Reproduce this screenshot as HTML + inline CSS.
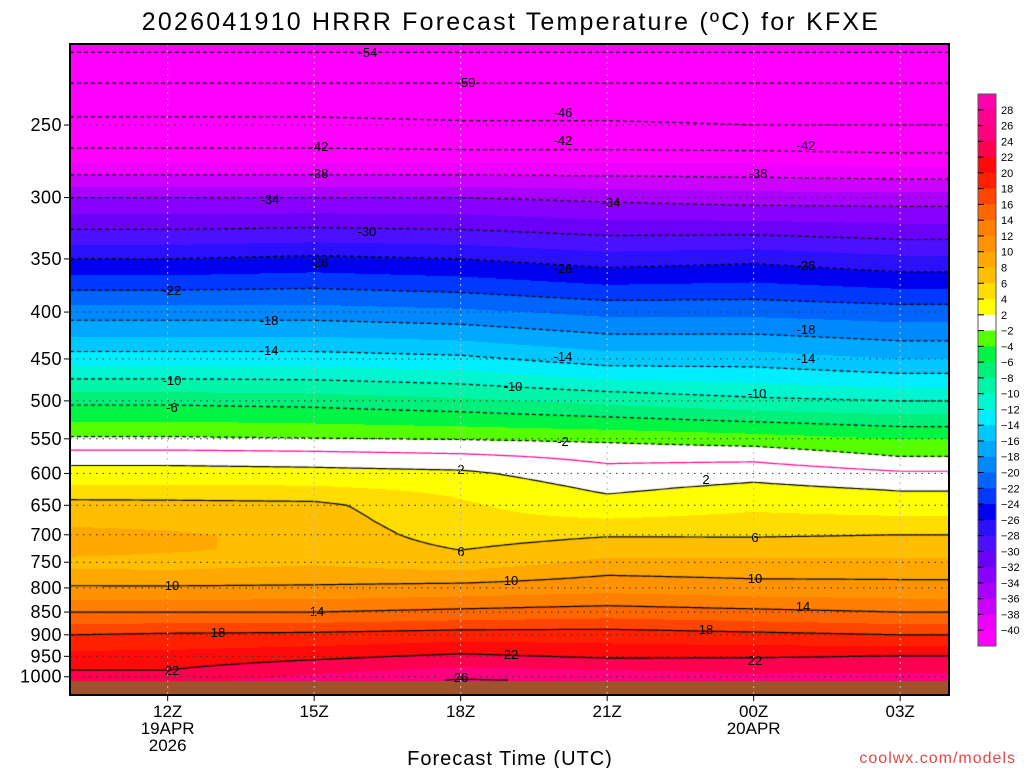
<!DOCTYPE html>
<html><head><meta charset="utf-8">
<style>
body{margin:0;background:#fff;width:1024px;height:768px;overflow:hidden;position:relative;font-family:"Liberation Sans",sans-serif}
#cv{position:absolute;left:70px;top:44px}
#ov{position:absolute;left:0;top:0}
</style></head><body>
<canvas id="cv" width="879" height="651"></canvas>
<svg id="ov" width="1024" height="768"></svg>
<script>
// ---- data ----
const levels=[200,225,250,275,300,350,400,450,500,550,575,600,625,650,675,700,725,750,775,800,850,900,950,1000,1030];
const hours=[10,12,15,18,21,24,27,28];
const t10=[-56,-50,-45,-40,-34,-26,-19,-13,-6.5,-1.7,1,2.9,4.6,6.8,7.6,8.6,8.6,7.5,8.6,10.3,14,18,20.8,22.6,25];
const t12=[-56,-50,-45,-40,-34,-26,-19,-13,-6.5,-1.7,1,2.9,4.6,6.7,7.4,8.3,8.2,7.4,8.5,10.3,14,18.3,20.8,22.6,25];
const t15=[-56,-50,-45,-40,-34,-25.5,-19,-13,-6.8,-1.9,0.8,2.7,4.5,6.5,7,7.4,7.6,7.8,8.8,10.4,14,18.5,21.5,24.5,26.5];
const t18=[-56,-50,-45.5,-40,-34,-26,-19.5,-13.5,-7.5,-2.1,0.4,2.4,3.6,4.3,4.5,5,5.9,7,8.7,10.8,14.5,19,22.4,25.6,27.5];
const t21=[-56,-50,-45.5,-40,-34.5,-27,-20.5,-15,-8.5,-2.4,-0.5,0.7,1.7,2.8,4.2,5.8,7.2,8.5,10,11.3,15,19,21.7,25.3,27];
const t00=[-56,-50,-46,-40,-35,-26.5,-20.5,-15,-9.5,-3,-0.6,1.3,2.6,3.6,4.6,5.8,7,8.5,9.7,10.8,14.5,18.5,21.8,24.5,25.5];
const t03=[-56,-50,-46,-40.5,-35,-27.5,-21,-16,-10,-4,-2,0.3,1.9,3,4.5,6,7.2,8.5,9.7,10.6,14,18,22.1,24.5,25.5];
const t04=[-56,-50,-46,-40.5,-35,-27.5,-21,-16,-10,-4,-2,0.3,1.9,3,4.5,6,7.2,8.5,9.7,10.6,14,18,22.1,24.5,25.5];
const profiles=[t10,t12,t15,t18,t21,t00,t03,t04];
const pTicks=[250,300,350,400,450,500,550,600,650,700,750,800,850,900,950,1000];
const xTickHours=[12,15,18,21,24,27];
const xTickLabels=["12Z","15Z","18Z","21Z","00Z","03Z"];
const cbLabels=[28,26,24,22,20,18,16,14,12,10,8,6,4,2,-2,-4,-6,-8,-10,-12,-14,-16,-18,-20,-22,-24,-26,-28,-30,-32,-34,-36,-38,-40];
const cbColors=["#ff00b0","#ff0090","#ff0080","#ff0050","#ff0a0a","#ff2000","#ff4500","#ff6600","#ff7f00","#ff9200","#ffa800","#ffbf00","#ffdd00","#ffff00","#ffffff","#55ff00","#00f444","#00f07a","#00f5a8","#00f5d0","#00ecff","#00c8ff","#00a8ff","#0088ff","#0064ff","#0038ff","#0000f0","#2a10ff","#4a10ff","#6a00f8","#8800ff","#aa00ff","#cc00ff","#ee00ff","#ff00ff"];
const contourLabels=[[-54,368,52],[-50,466,82],[-46,563,112],[-42,319,146],[-42,563,140],[-42,806,145],[-38,319,173],[-38,758,173],[-34,270,199],[-34,611,202],[-30,367,231],[-26,319,262],[-26,563,268],[-26,806,265],[-22,172,290],[-18,269,320],[-18,806,329],[-14,269,350],[-14,563,356],[-14,806,358],[-10,172,380],[-10,513,386],[-10,757,393],[-6,172,407],[-2,563,441],[2,461,469],[2,706,479],[6,461,551],[6,755,537],[10,172,585],[10,511,580],[10,755,578],[14,317,611],[14,803,606],[18,218,632],[18,706,629],[22,172,670],[22,511,654],[22,755,660],[26,461,677]];
// ---- scales ----
const X0=70,X1=949,Y0=44,Y1=695,H0=10,H1=28;
const xOf=h=>X0+(h-H0)/(H1-H0)*(X1-X0);
const hOf=x=>H0+(x-X0)/(X1-X0)*(H1-H0);
const yOf=p=>125+398*Math.log(p/250);
const pOf=y=>250*Math.exp((y-125)/398);
const GROUND=1010;
function interp(xs,ys,x){if(x<=xs[0])return ys[0];for(let i=1;i<xs.length;i++){if(x<=xs[i]){const f=(x-xs[i-1])/(xs[i]-xs[i-1]);return ys[i-1]+f*(ys[i]-ys[i-1]);}}return ys[ys.length-1];}
function temp(h,p){let i=1;while(i<hours.length-1&&h>hours[i])i++;const f=Math.max(0,Math.min(1,(h-hours[i-1])/(hours[i]-hours[i-1])));const a=interp(levels,profiles[i-1],p),b=interp(levels,profiles[i],p);return a+f*(b-a);}
function colorOf(t){
  if(t>28)return cbColors[0];
  if(t>-2&&t<=2)return cbColors[14];
  for(let i=0;i<cbLabels.length;i++){const lo=cbLabels[i+1];if(lo===undefined)return cbColors[cbColors.length-1];if(cbLabels[i]===2)continue;if(t>lo&&t<=cbLabels[i])return cbColors[i+1];}
  return cbColors[cbColors.length-1];
}
// ---- fill ----
const cv=document.getElementById('cv'),ctx=cv.getContext('2d');
const W=879,HH=651;
for(let px=0;px<W;px+=1){const h=hOf(X0+px);let prev=null,start=0;
  for(let py=0;py<=HH;py++){const p=pOf(Y0+py);let c=(py<HH)?(p>GROUND?"#a0522d":colorOf(temp(h,p))):null;
    if(c!==prev){if(prev){ctx.fillStyle=prev;ctx.fillRect(px,start,1,py-start);}prev=c;start=py;}}}
// ---- contours ----
function crossY(h,v){for(let y=Y1-1;y>Y0;y--){const p=pOf(y);if(p>GROUND)continue;const t1=temp(h,p),t2=temp(h,pOf(y-1));if((t1-v)*(t2-v)<=0&&t1!==t2)return y-(t1-v)/(t1-t2);}return null;}
for(const v of [-54,-50,-46,-42,-38,-34,-30,-26,-22,-18,-14,-10,-6,-2,0,2,6,10,14,18,22,26]){
  ctx.beginPath();let on=false;
  for(let x=X0;x<=X1;x+=3){const y=crossY(hOf(x),v);if(y===null){on=false;continue;}
    if(!on){ctx.moveTo(x-X0,y-Y0);on=true;}else ctx.lineTo(x-X0,y-Y0);}
  ctx.lineWidth=1.2;
  if(v===0){ctx.strokeStyle="#ff0090";ctx.setLineDash([]);}
  else if(v<0){ctx.strokeStyle="#000";ctx.setLineDash([4,3]);}
  else{ctx.strokeStyle="#000";ctx.setLineDash([]);}
  ctx.stroke();
}
// ---- overlay ----
const NS="http://www.w3.org/2000/svg",svg=document.getElementById('ov');
function el(tag,attrs,txt){const e=document.createElementNS(NS,tag);for(const k in attrs)e.setAttribute(k,attrs[k]);if(txt!==undefined)e.textContent=txt;svg.appendChild(e);return e;}
for(const c of contourLabels){
  const t=el('text',{x:c[1],y:c[2]+5,'text-anchor':'middle','font-size':13,fill:'#000'},String(c[0]));
  
  
}
for(const p of pTicks){const y=yOf(p);
  const l=el('line',{x1:X0,x2:X1,y1:y,y2:y,stroke:'#333','stroke-width':1,'stroke-dasharray':'1.5,5'});
  
  
  el('line',{x1:X0-6,x2:X0,y1:y,y2:y,stroke:'#000'});
  const t=el('text',{x:X0-8,y:y+6,'text-anchor':'end','font-size':18,fill:'#000','letter-spacing':'0.5'},String(p));
  
  
}
xTickHours.forEach((h,i)=>{const x=xOf(h);
  const l=el('line',{x1:x,x2:x,y1:Y0,y2:Y1,stroke:'#bbb','stroke-width':1,'stroke-dasharray':'2,4'});
  
  
  el('line',{x1:x,x2:x,y1:Y1,y2:Y1+6,stroke:'#000'});
  const t=el('text',{x:x,y:Y1+22,'text-anchor':'middle','font-size':17,fill:'#000'},xTickLabels[i]);
  
  
});
el('text',{x:xOf(12),y:Y1+39,'text-anchor':'middle','font-size':17},"19APR");
el('text',{x:xOf(12),y:Y1+56,'text-anchor':'middle','font-size':17},"2026");
el('text',{x:xOf(24),y:Y1+39,'text-anchor':'middle','font-size':17},"20APR");
const fr=el('rect',{x:X0,y:Y0,width:X1-X0,height:Y1-Y0,fill:'none',stroke:'#000','stroke-width':2});


const ti=el('text',{x:511,y:30,'text-anchor':'middle','font-size':25,fill:'#000','letter-spacing':'2.2'},"2026041910 HRRR Forecast Temperature (ºC) for KFXE");


const xt=el('text',{x:510,y:765,'text-anchor':'middle','font-size':20,fill:'#000','letter-spacing':'1'},"Forecast Time (UTC)");


const cr=el('text',{x:1016,y:763,'text-anchor':'end','font-size':16,fill:'#e04848','letter-spacing':'1'},"coolwx.com/models");


// colorbar
const CB0=94,CB1=646,bh=(CB1-CB0)/cbColors.length;
cbColors.forEach((c,i)=>{const r=el('rect',{x:978,y:CB0+i*bh,width:18,height:bh+0.5,fill:c});
  
  });
el('rect',{x:978,y:CB0,width:18,height:CB1-CB0,fill:'none',stroke:'#555','stroke-width':1});
cbLabels.forEach((v,i)=>{const y=CB0+(i+1)*bh;
  el('line',{x1:978,x2:984,y1:y,y2:y,stroke:'#000'});
  const t=el('text',{x:1001,y:y+4,'font-size':11,fill:'#000'},v<0?"\u2212"+(-v):String(v));
  
  
});
</script>
</body></html>
